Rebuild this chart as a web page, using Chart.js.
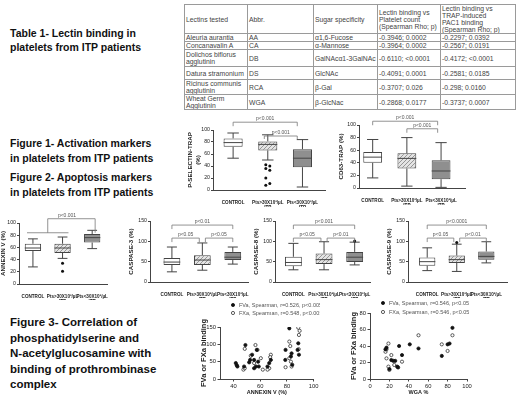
<!DOCTYPE html>
<html>
<head>
<meta charset="utf-8">
<script src="https://cdn.jsdelivr.net/npm/chart.js@4"></script>
<style>
  body { margin:0; width:520px; height:396px; background:#fff; position:relative; overflow:hidden;
         font-family:"Liberation Sans", Arial, sans-serif; }
  .hd { position:absolute; left:10px; font-weight:bold; color:#111; white-space:nowrap; }
  canvas { position:absolute; }
  #tbl { position:absolute; left:184px; top:4px; width:331px; border-collapse:collapse; table-layout:fixed;
         font-size:6.8px; color:#444; }
  #tbl td { border:1px solid #9a9a9a; padding:0 1px; line-height:7px; vertical-align:middle; overflow:hidden; }
</style>
</head>
<body>

<div class="hd" style="top:26px;font-size:10.5px;line-height:14px">Table 1- Lectin binding in<br>platelets from ITP patients</div>
<div class="hd" style="top:136px;font-size:10.5px;line-height:15px">Figure 1- Activation markers<br>in platelets from ITP patients</div>
<div class="hd" style="top:170px;font-size:10.5px;line-height:15px">Figure 2- Apoptosis markers<br>in platelets from ITP patients</div>
<div class="hd" style="top:315px;font-size:11.5px;line-height:15.5px">Figure 3- Correlation of<br>phosphatidylserine and<br>N-acetylglucosamine with<br>binding of prothrombinase<br>complex</div>

<table id="tbl"></table>

<canvas id="pselChart"></canvas>
<canvas id="cd63Chart"></canvas>
<canvas id="annexinChart"></canvas>
<canvas id="casp3Chart"></canvas>
<canvas id="casp8Chart"></canvas>
<canvas id="casp9Chart"></canvas>
<canvas id="annexinScatter"></canvas>
<canvas id="wgaScatter"></canvas>

<script>
const FONT = '"Liberation Sans", Arial, sans-serif';

// ---- Table 1 ----
const lectinNames = ['Aleuria aurantia', 'Concanavalin A', 'Dolichos biflorus agglutinin', 'Datura stramonium', 'Ricinus communis agglutinin', 'Wheat Germ Agglutinin'];
const lectinAbbr = ['AA', 'CA', 'DB', 'DS', 'RCA', 'WGA'];
const sugarSpec = ['α1,6-Fucose', 'α-Mannose', 'GalNAcα1-3GalNAc', 'GlcNAc', 'β-Gal', 'β-GlcNac'];
const rhoPlatelet = ['-0.3946; 0.0002', '-0.3964; 0.0002', '-0.6110; <0.0001', '-0.4091; 0.0001', '-0.3707; 0.026', '-0.2868; 0.0177'];
const rhoPac1 = ['-0.2297; 0.0392', '-0.2567; 0.0191', '-0.4172; <0.0001', '-0.2581; 0.0185', '-0.298; 0.0160', '-0.3737; 0.0007'];
const tableHead = ['Lectins tested', 'Abbr.', 'Sugar specificity', 'Lectin binding vs<br>Platelet count<br>(Spearman Rho; p)', 'Lectin binding vs<br>TRAP-induced<br>PAC1 binding<br>(Spearman Rho; p)'];

// ---- box plots (min, q1, median, q3, max per group) ----
const groupLabels = [['CONTROL'], ['Pts>30X10³/µL', 'ITP'], ['Pts<30X10³/µL', 'ITP']];

const pselMin = [53, 50, 5],  pselQ1 = [72, 66, 38], pselMed = [79, 76, 53], pselQ3 = [86, 81, 68], pselMax = [95, 92, 84];
const pselOut = [[], [42, 40, 36, 33, 20, 11, 8], []];

const cd63Min = [16, 3, 1],   cd63Q1 = [40, 31, 14], cd63Med = [49, 47, 27], cd63Q3 = [57, 55, 44], cd63Max = [77, 80, 72];
const cd63Out = [[], [], []];

const annMin = [28, 42, 58],  annQ1 = [54, 51, 68],  annMed = [59, 59, 76],  annQ3 = [66, 66, 82],  annMax = [74, 77, 88];
const annOut = [[], [34, 21], []];

const c3Min = [25, 29, 44],   c3Q1 = [42, 42, 54],   c3Med = [49, 54, 61],   c3Q3 = [59, 66, 74],   c3Max = [86, 96, 86];
const c3Out = [[], [], []];

const c8Min = [30, 30, 42],   c8Q1 = [39, 44, 49],   c8Med = [48, 55, 61],   c8Q3 = [62, 70, 74],   c8Max = [95, 99, 98];
const c8Out = [[], [], [101]];

const c9Min = [28, 26, 47],   c9Q1 = [40, 47, 55],   c9Med = [50, 55, 63],   c9Q3 = [60, 65, 75],   c9Max = [84, 93, 99];
const c9Out = [[], [97], []];

// ---- Figure 3 scatter points [x, y] ----
const annexinFVa = [[41.8, 46], [42.5, 40], [43, 36], [49, 98], [48, 36], [51.8, 48], [52.5, 55], [54, 70], [55.5, 55], [56.8, 36],
  [55.5, 31], [58.5, 50], [59, 36], [57.5, 84], [65.5, 36], [66.8, 46], [68, 55], [78.8, 55], [79, 84], [81.8, 146], [83, 65],
  [84, 41], [83.5, 74], [88.5, 103], [89, 70], [88, 84]];
const annexinFXa = [[48.5, 87], [47.5, 27], [48.5, 31], [53, 67], [56.5, 98], [58, 84], [60.5, 60], [55.5, 46], [62, 27],
  [68, 70], [67.5, 63], [66.8, 31], [65.5, 27], [79, 34], [81.8, 108], [82.5, 95], [83, 50], [81.8, 60], [89, 127], [89.5, 139],
  [88.5, 148], [88.8, 86], [83.5, 36]];
const wgaFVa = [[17, 38], [16, 36], [22, 23], [24, 22], [26, 22], [28, 15], [29, 14], [30, 40], [33, 29], [41, 42], [50, 37],
  [74, 28], [80, 42], [82, 43], [85, 62], [20, 12]];
const wgaFXa = [[19, 43], [16, 33], [22, 29], [17, 25], [33, 21], [25, 17], [19, 15], [20, 11], [50, 53], [74, 42], [80, 34],
  [85, 53], [17, 36]];

// build table
const tbl = document.getElementById('tbl');
const colW = [63, 66, 64, 63, 75];
const rowH = [29, 7, 7, 17, 13, 15, 14];
let html = '<colgroup>' + colW.map(w => '<col style="width:' + w + 'px">').join('') + '</colgroup>';
html += '<tr style="height:' + rowH[0] + 'px">' + tableHead.map(t => '<td>' + t + '</td>').join('') + '</tr>';
lectinNames.forEach((n, i) => {
  html += '<tr style="height:' + rowH[i + 1] + 'px"><td>' + n + '</td><td>' + lectinAbbr[i] + '</td><td>' + sugarSpec[i] +
    '</td><td>' + rhoPlatelet[i] + '</td><td>' + rhoPac1[i] + '</td></tr>';
});
tbl.innerHTML = html;

// hatched fill for the middle group
const hatch = (function () {
  const c = document.createElement('canvas');
  c.width = 4; c.height = 4;
  const g = c.getContext('2d');
  g.fillStyle = '#e4e4e4'; g.fillRect(0, 0, 4, 4);
  g.strokeStyle = '#8c8c8c'; g.lineWidth = 0.9;
  g.beginPath();
  g.moveTo(0, 4); g.lineTo(4, 0);
  g.moveTo(-1, 1); g.lineTo(1, -1);
  g.moveTo(3, 5); g.lineTo(5, 3);
  g.stroke();
  return g.createPattern(c, 'repeat');
})();

function place(cv, lay) {
  cv.width = lay.w; cv.height = lay.h;
  cv.style.left = lay.x + 'px'; cv.style.top = lay.y + 'px';
}

// whiskers, medians, outliers and p-value brackets
function boxLayer(st, brackets) {
  return {
    id: 'boxLayer',
    afterDatasetsDraw(chart) {
      const ctx = chart.ctx, ys = chart.scales.y, xs = chart.scales.x;
      const meta = chart.getDatasetMeta(0);
      ctx.save();
      ctx.strokeStyle = '#444';
      ctx.lineWidth = 1;
      st.min.forEach((v, i) => {
        const bar = meta.data[i];
        const x = bar.x, hw = bar.width / 2, cap = hw * 0.6;
        const pMin = ys.getPixelForValue(v), pMax = ys.getPixelForValue(st.max[i]);
        const pQ1 = ys.getPixelForValue(st.q1[i]), pQ3 = ys.getPixelForValue(st.q3[i]);
        const pMed = ys.getPixelForValue(st.med[i]);
        ctx.beginPath();
        ctx.moveTo(x, pQ1); ctx.lineTo(x, pMin);
        ctx.moveTo(x - cap, pMin); ctx.lineTo(x + cap, pMin);
        ctx.moveTo(x, pQ3); ctx.lineTo(x, pMax);
        ctx.moveTo(x - cap, pMax); ctx.lineTo(x + cap, pMax);
        ctx.moveTo(x - hw, pMed); ctx.lineTo(x + hw, pMed);
        ctx.stroke();
        ctx.fillStyle = '#111';
        st.out[i].forEach((o, k) => {
          ctx.beginPath();
          ctx.arc(x + (k % 2 ? 2 : -2) * (st.out[i].length > 2 ? 1 : 0), ys.getPixelForValue(o), 1.5, 0, Math.PI * 2);
          ctx.fill();
        });
      });
      // brackets
      ctx.strokeStyle = '#777';
      ctx.lineWidth = 0.8;
      ctx.fillStyle = '#555';
      ctx.font = '5px ' + FONT;
      ctx.textAlign = 'center';
      ctx.textBaseline = 'bottom';
      brackets.forEach(br => {
        const x1 = xs.getPixelForValue(br.a), x2 = xs.getPixelForValue(br.b);
        const y = ys.getPixelForValue(br.y);
        ctx.beginPath();
        if (br.base !== undefined) {
          const yb = ys.getPixelForValue(br.base);
          ctx.moveTo(xs.getPixelForValue(br.g0), yb); ctx.lineTo(xs.getPixelForValue(br.g1), yb);
          ctx.moveTo(x1, yb); ctx.lineTo(x1, y);
        } else {
          ctx.moveTo(x1, y + br.drop); ctx.lineTo(x1, y);
        }
        ctx.lineTo(x2, y); ctx.lineTo(x2, y + br.drop);
        ctx.stroke();
        ctx.fillText(br.text, br.tx !== undefined ? xs.getPixelForValue(br.tx) : (x1 + x2) / 2, y - 1);
      });
      ctx.restore();
    }
  };
}

function drawBoxChart(id, lay, st, yMax, yStep, yTitle, brackets) {
  const cv = document.getElementById(id);
  place(cv, lay);
  const yw = lay.l - lay.x, xh = lay.y + lay.h - lay.b;
  new Chart(cv, {
    type: 'bar',
    data: {
      datasets: [{
        data: st.q1.map((q, i) => ({ x: i, y: [q, st.q3[i]] })),
        backgroundColor: ['#ffffff', hatch, '#8f8f8f'],
        borderColor: '#444',
        borderWidth: 1,
        borderSkipped: false,
        barPercentage: 0.55,
        categoryPercentage: 1
      }]
    },
    options: {
      responsive: false,
      animation: false,
      events: [],
      layout: { padding: { top: lay.t - lay.y, right: lay.x + lay.w - lay.r, left: 0, bottom: 0 } },
      plugins: { legend: { display: false }, tooltip: { enabled: false } },
      scales: {
        x: {
          type: 'linear', min: lay.xmin, max: lay.xmax, offset: false,
          grid: { display: false },
          border: { color: '#444', width: 1 },
          afterBuildTicks: s => { s.ticks = [0, 1, 2].map(v => ({ value: v })); },
          afterFit: s => { s.height = xh; },
          ticks: { callback: v => groupLabels[v], autoSkip: false, maxRotation: 0, minRotation: 0, padding: 2,
                   color: '#222', font: { size: 4.6, weight: 'bold', family: FONT, lineHeight: 1.15 } }
        },
        y: {
          min: 0, max: yMax,
          grid: { drawOnChartArea: false, tickLength: 2, color: '#444' },
          border: { color: '#444', width: 1 },
          afterFit: s => { s.width = yw; },
          ticks: { stepSize: yStep, padding: 1, color: '#222', font: { size: 5.2, family: FONT } },
          title: { display: true, text: yTitle, color: '#222', padding: { top: 0, bottom: 1 },
                   font: { size: 6.2, weight: 'bold', family: FONT, lineHeight: 1.2 } }
        }
      }
    },
    plugins: [boxLayer(st, brackets)]
  });
}

drawBoxChart('pselChart', { x: 187, y: 110, w: 141, h: 97, l: 213, t: 130, r: 325, b: 190, xmin: -0.58, xmax: 2.65 },
  { min: pselMin, q1: pselQ1, med: pselMed, q3: pselQ3, max: pselMax, out: pselOut }, 100, 20, ['P-SELECTIN-TRAP', '(%)'],
  [{ a: 0, b: 1.85, y: 113, drop: 4, text: 'p<0.001' }, { a: 0.9, b: 1.85, y: 90, drop: 3, text: 'p<0.001' }]);

drawBoxChart('cd63Chart', { x: 338, y: 108, w: 132, h: 97, l: 359, t: 125, r: 465, b: 188, xmin: -0.4, xmax: 2.7 },
  { min: cd63Min, q1: cd63Q1, med: cd63Med, q3: cd63Q3, max: cd63Max, out: cd63Out }, 100, 20, 'CD63-TRAP (%)',
  [{ a: 0, b: 1.9, y: 106, drop: 4, text: 'p<0.001' }, { a: 1, b: 1.9, y: 94, drop: 4, text: 'p<0.001' }]);

drawBoxChart('annexinChart', { x: 0, y: 208, w: 112, h: 92, l: 19, t: 223, r: 107, b: 284, xmin: -0.47, xmax: 2.5 },
  { min: annMin, q1: annQ1, med: annMed, q3: annQ3, max: annMax, out: annOut }, 100, 20, 'ANNEXIN V (%)',
  [{ a: 0.5, b: 2.1, y: 107, drop: 14, base: 84, g0: -0.2, g1: 1.2, tx: 1.15, text: 'p<0.001' }]);

drawBoxChart('casp3Chart', { x: 128, y: 208, w: 124, h: 90, l: 150, t: 221, r: 248, b: 282, xmin: -0.72, xmax: 2.5 },
  { min: c3Min, q1: c3Q1, med: c3Med, q3: c3Q3, max: c3Max, out: c3Out }, 150, 50, 'CASPASE-3 (%)',
  [{ a: 0, b: 2, y: 140, drop: 4, text: 'p<0.01' }, { a: 0, b: 0.9, y: 108, drop: 4, text: 'p<0.05' },
   { a: 1.1, b: 2, y: 108, drop: 4, text: 'p<0.05' }]);

drawBoxChart('casp8Chart', { x: 253, y: 208, w: 121, h: 90, l: 275, t: 221, r: 370, b: 282, xmin: -0.6, xmax: 2.5 },
  { min: c8Min, q1: c8Q1, med: c8Med, q3: c8Q3, max: c8Max, out: c8Out }, 150, 50, 'CASPASE-8 (%)',
  [{ a: 0, b: 2, y: 140, drop: 4, text: 'p<0.001' }, { a: 0, b: 0.9, y: 108, drop: 4, text: 'p<0.05' },
   { a: 1.1, b: 2, y: 108, drop: 4, text: 'p<0.01' }]);

drawBoxChart('casp9Chart', { x: 386, y: 208, w: 126, h: 90, l: 408, t: 221, r: 507, b: 282, xmin: -0.65, xmax: 2.7 },
  { min: c9Min, q1: c9Q1, med: c9Med, q3: c9Q3, max: c9Max, out: c9Out }, 150, 50, 'CASPASE-9 (%)',
  [{ a: 0, b: 2, y: 140, drop: 4, text: 'p<0.0001' }, { a: 0, b: 0.9, y: 108, drop: 4, text: 'p<0.05' },
   { a: 1.1, b: 2, y: 108, drop: 4, text: 'p<0.01' }]);

// small legend drawn above the plot area
function legendLayer(dx, dy, gap) {
  return {
    id: 'legendLayer',
    afterDraw(chart) {
      const ctx = chart.ctx, a = chart.chartArea;
      ctx.save();
      ctx.font = '5.5px ' + FONT;
      ctx.textBaseline = 'middle';
      chart.data.datasets.forEach((ds, i) => {
        const x = a.left + dx, y = a.top + dy + i * gap;
        ctx.beginPath();
        ctx.arc(x, y, 1.6, 0, Math.PI * 2);
        ctx.fillStyle = ds.pointBackgroundColor;
        ctx.fill();
        ctx.lineWidth = 0.8;
        ctx.strokeStyle = ds.pointBorderColor;
        ctx.stroke();
        ctx.fillStyle = '#555';
        ctx.fillText(ds.label, x + 6, y);
      });
      ctx.restore();
    }
  };
}

function drawScatter(id, lay, fva, fxa, labels, xTicks, yTicks, xTitle, legendPos) {
  const cv = document.getElementById(id);
  place(cv, lay);
  const yw = lay.l - lay.x, xh = lay.y + lay.h - lay.b;
  new Chart(cv, {
    type: 'scatter',
    data: {
      datasets: [
        { label: labels[0], data: fva.map(p => ({ x: p[0], y: p[1] })), pointRadius: 1.6,
          pointBackgroundColor: '#111', pointBorderColor: '#111', pointBorderWidth: 0.8 },
        { label: labels[1], data: fxa.map(p => ({ x: p[0], y: p[1] })), pointRadius: 1.6,
          pointBackgroundColor: '#fff', pointBorderColor: '#333', pointBorderWidth: 0.8 }
      ]
    },
    options: {
      responsive: false,
      animation: false,
      events: [],
      layout: { padding: { top: lay.t - lay.y, right: lay.x + lay.w - lay.r, left: 0, bottom: 0 } },
      plugins: { legend: { display: false }, tooltip: { enabled: false } },
      scales: {
        x: {
          type: 'linear', min: lay.xmin, max: lay.xmax,
          grid: { drawOnChartArea: false, tickLength: 2.5, color: '#444' },
          border: { color: '#444', width: 1 },
          afterBuildTicks: s => { s.ticks = xTicks.map(v => ({ value: v })); },
          afterFit: s => { s.height = xh; },
          ticks: { autoSkip: false, maxRotation: 0, padding: 1.5, color: '#222', font: { size: 5.8, family: FONT } },
          title: { display: true, text: xTitle, color: '#222', padding: 0, font: { size: 5.5, weight: 'bold', family: FONT } }
        },
        y: {
          min: lay.ymin, max: lay.ymax,
          grid: { drawOnChartArea: false, tickLength: 2.5, color: '#444' },
          border: { color: '#444', width: 1 },
          afterBuildTicks: s => { s.ticks = yTicks.map(v => ({ value: v })); },
          afterFit: s => { s.width = yw; },
          ticks: { padding: 1.5, color: '#222', font: { size: 5.8, family: FONT } },
          title: { display: true, text: 'FVa or FXa binding', color: '#222', padding: 0,
                   font: { size: 7.5, weight: 'bold', family: FONT } }
        }
      }
    },
    plugins: [legendLayer(legendPos[0], legendPos[1], legendPos[2])]
  });
}

drawScatter('annexinScatter', { x: 199, y: 296, w: 121, h: 100, l: 220, t: 327, r: 315, b: 379, xmin: 30, xmax: 100, ymin: 0, ymax: 150 },
  annexinFVa, annexinFXa, ['FVa, Spearman, r=0.526, p<0.005', 'FXa, Spearman, r=0.548, p<0.005'],
  [40, 60, 80, 100], [0, 50, 100, 150], 'ANNEXIN V (%)', [13, -22, 8]);

drawScatter('wgaScatter', { x: 349, y: 294, w: 125, h: 102, l: 370, t: 313, r: 467, b: 379, xmin: 0, xmax: 100, ymin: 0, ymax: 80 },
  wgaFVa, wgaFXa, ['FVa, Spearman, r=0.546, p<0.05', 'FXa, Spearman, r=0.546, p<0.05'],
  [0, 20, 40, 60, 80, 100], [0, 20, 40, 60, 80], 'WGA %', [13, -10, 9]);
</script>
</body>
</html>
